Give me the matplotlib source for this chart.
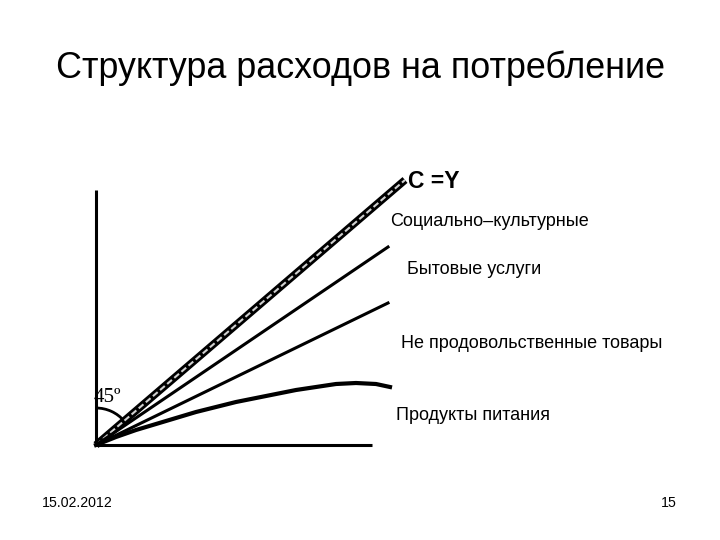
import numpy as np
import matplotlib
matplotlib.use("Agg")
import matplotlib.pyplot as plt
from matplotlib.patches import Arc

plt.rcParams['font.family'] = ['Liberation Sans', 'DejaVu Sans']

# Chart data (x, y measured from the origin of the diagram)
axis_x_len = 276
axis_y_len = 255
cy_end = (309, 265)          # C = Y line
social_end = (292, 198)      # Социально-культурные
services_end = (292, 142)    # Бытовые услуги
food_x = [0, 20, 40, 60, 80, 100, 120, 140, 160, 180, 200, 220, 240, 260, 280, 294]
food_y = [0, 8, 15, 21, 27, 33, 38, 43, 47, 51, 55, 58, 61, 62, 61, 58]

labels = ["C =Y", "Социально–культурные", "Бытовые услуги",
          "Не продовольственные товары", "Продукты питания"]
label_pos = [(312, 264), (294, 223), (311, 175), (305, 102), (300, 30)]

title = "Структура расходов на потребление"
date_text = "15.02.2012"
page_text = "15"

fig = plt.figure(figsize=(7.2, 5.4), dpi=100)
ax = fig.add_axes([0, 0, 1, 1])
# origin of the diagram sits at pixel (96, 445)
ax.set_xlim(-96, 624)
ax.set_ylim(-95, 445)
ax.axis('off')

# axes of the diagram
ax.plot([0, 0], [0, axis_y_len], color='black', lw=2.2, solid_capstyle='butt')
ax.plot([0, axis_x_len], [0, 0], color='black', lw=2.2, solid_capstyle='butt')

# C = Y line: thick black with light dashes inside
ax.plot([0, cy_end[0]], [0, cy_end[1]], color='black', lw=5.5, solid_capstyle='butt')
ax.plot([0, cy_end[0]], [0, cy_end[1]], color='#d0d0d0', lw=1.5, ls=(0, (3, 1.5)))

ax.plot([0, social_end[0]], [0, social_end[1]], color='black', lw=2.2)
ax.plot([0, services_end[0]], [0, services_end[1]], color='black', lw=2.2)
ax.plot(food_x, food_y, color='black', lw=3, solid_joinstyle='round')

# 45 degree arc
angle = np.degrees(np.arctan2(cy_end[1], cy_end[0]))
ax.add_patch(Arc((0, 0), 74, 74, theta1=angle, theta2=90, color='black', lw=2))
ax.text(-2, 47, "45º", fontsize=15, family=['Liberation Serif', 'DejaVu Serif'],
        ha='left', va='center')

for i, (lab, pos) in enumerate(zip(labels, label_pos)):
    if i == 0:
        ax.text(pos[0], pos[1], lab, fontsize=16.5, fontweight='bold', ha='left', va='center')
    else:
        ax.text(pos[0], pos[1], lab, fontsize=13, ha='left', va='center')

fig.text(0.5, 1 - 68 / 540, title, fontsize=25.8, ha='center', va='center')
fig.text(42 / 720, 1 - 503 / 540, date_text, fontsize=10.2, ha='left', va='center')
fig.text(677 / 720, 1 - 503 / 540, page_text, fontsize=10.2, ha='right', va='center')

fig.savefig("out.png", dpi=100)
